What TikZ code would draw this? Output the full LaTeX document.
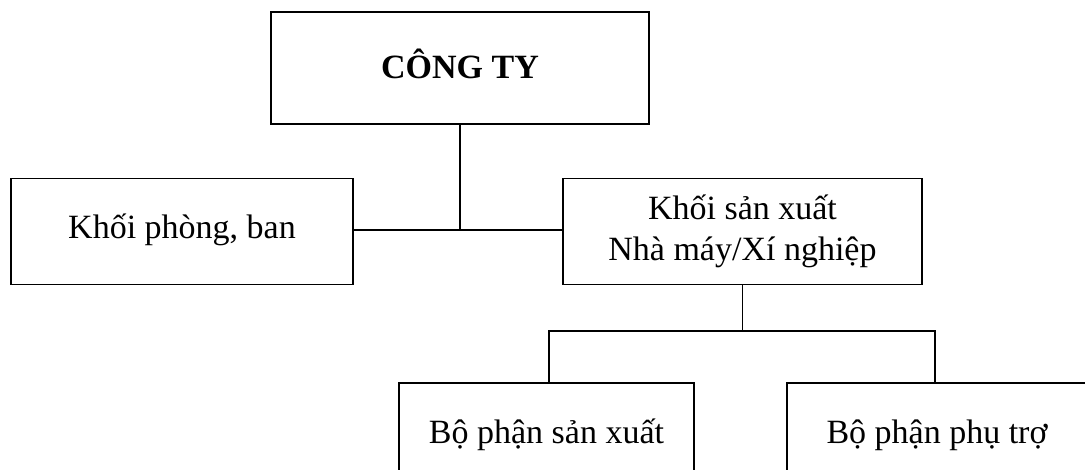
\documentclass[tikz,border=0pt]{standalone}
\usepackage{fontspec}
\setmainfont{Liberation Serif}
\begin{document}
\begin{tikzpicture}[x=1pt,y=-1pt,
  unit/.style={draw, line width=1.8pt, inner sep=0pt, align=center,
               font=\fontsize{34}{41}\selectfont},
  oneline/.style={unit, text height=24pt, text depth=10pt},
  wire/.style={line width=1.8pt}]
\useasboundingbox (0,0) rectangle (1085,470);
\clip (0,0) rectangle (1085,470);

% top level
\node[unit, minimum width=378pt, minimum height=112pt,
      text height=30pt, text depth=8pt,
      font=\fontsize{34}{41}\selectfont\bfseries] (cty) at (460,68) {CÔNG TY};

% second level
\node[oneline, minimum width=342pt, minimum height=106pt] (kpb) at (182,231.5) {Khối phòng, ban};
\node[unit, minimum width=359pt, minimum height=106pt] (ksx) at (742.5,231.5)
     {Khối sản xuất\\Nhà máy/Xí nghiệp};

% third level
\node[oneline, minimum width=295pt, minimum height=106pt] (bpsx) at (546.5,436) {Bộ phận sản xuất};
\node[oneline, minimum width=300pt, minimum height=106pt] (bppt) at (937,436) {Bộ phận phụ trợ};

% connectors
\coordinate (hub) at (cty.south |- 0,230);
\draw[wire] (cty.south) -- (hub);
\draw[wire] (kpb.east |- hub) -- (ksx.west |- hub);

\coordinate (bl) at (549,331);
\coordinate (br) at (935,331);
\draw[wire] (ksx.south) -- (ksx.south |- bl);
\draw[wire] (bpsx.north -| bl) -- (bl) -- (br) -- (bppt.north -| br);
\end{tikzpicture}
\end{document}
